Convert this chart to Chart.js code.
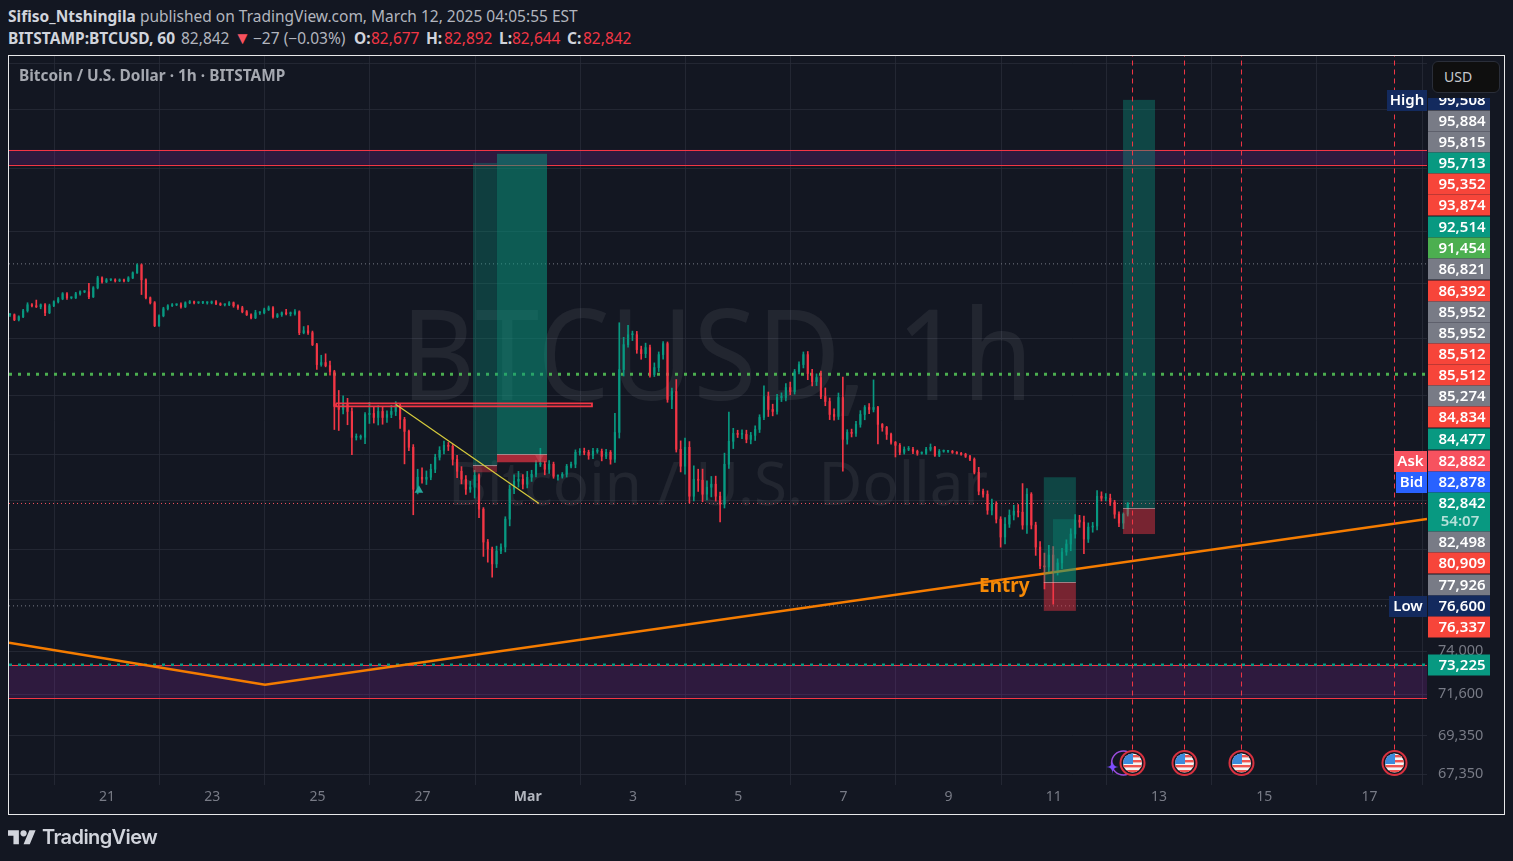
<!DOCTYPE html>
<html>
<head>
<meta charset="utf-8">
<title>BTCUSD 1h</title>
<script src="https://cdn.jsdelivr.net/npm/chart.js@4/dist/chart.umd.min.js"></script>
<style>
    html, body { margin: 0; padding: 0; width: 1513px; height: 861px; overflow: hidden; background: #131722; }
    body { font-family: "Noto Sans", sans-serif; position: relative; }
    canvas { position: absolute; left: 0; top: 0; }
    .line { position: absolute; left: 8px; font-size: 15.5px; line-height: 20px; color: #b2b5be; white-space: nowrap; }
    .line b { color: #d1d4dc; }
    .q { position: absolute; top: 28px; font-size: 15.5px; line-height: 20px; color: #b2b5be; white-space: nowrap; }
    .q.b { font-weight: 700; color: #d1d4dc; }
    .q.r { color: #f23645; }
    #frame { position: absolute; left: 8px; top: 55px; width: 1495px; height: 758px; border: 1px solid #e8e8ea; pointer-events: none; }
    #title { position: absolute; left: 19px; top: 66px; font-size: 15.4px; line-height: 20px; font-weight: 700; color: #a5a8b0; }
    #usd { position: absolute; left: 1432px; top: 61px; width: 68px; height: 32px; box-sizing: border-box; padding-left: 11px; line-height: 30px;
           background: #0f0f0f; border: 1px solid #2a2e39; border-radius: 6px; color: #c8cad0; font-size: 14px; }
    #brand { position: absolute; left: 42px; top: 823px; font: 600 20px/28px Inter, sans-serif; color: #d1d4dc; letter-spacing: -0.6px; }
    #logo { position: absolute; left: 8px; top: 827px; }
</style>
</head>
<body>

<div class="line" style="top:6px"><b>Sifiso_Ntshingila</b> published on TradingView.com, March 12, 2025 04:05:55 EST</div>
<span class="q b" style="left:8px">BITSTAMP:BTCUSD, 60</span>
<span class="q" style="left:181px">82,842</span>
<span class="q" style="left:234px;color:#f7525f;font-size:17px">&#9660;</span>
<span class="q" style="left:253px">&minus;27 (&minus;0.03%)</span>
<span class="q b" style="left:354px">O:</span><span class="q r" style="left:371px">82,677</span>
<span class="q b" style="left:426px">H:</span><span class="q r" style="left:444px">82,892</span>
<span class="q b" style="left:499px">L:</span><span class="q r" style="left:512px">82,644</span>
<span class="q b" style="left:567px">C:</span><span class="q r" style="left:583px">82,842</span>

<canvas id="chart" width="1513" height="861"></canvas>

<div id="frame"></div>
<div id="title">Bitcoin / U.S. Dollar &middot; 1h &middot; BITSTAMP</div>
<div id="usd">USD</div>
<svg id="logo" width="28" height="22" viewBox="0 0 36 28" fill="#d1d4dc"><path d="M14 22H7V11H0V4h14v18zM28 22h-8l7.5-18h8L28 22z"/><circle cx="20" cy="8" r="4"/></svg>
<div id="brand">TradingView</div>

<script>
/* ================= DATA ================= */

// 2 hour bars, day numbers count from Feb 1 (Mar 1 = 29)
const firstBarDay = 19.156;
const barHours = 2;

const closes = [
    95710,95345,95564,96002,96443,96370,96296,96443,95856,96370,
    96664,96885,97257,96960,96960,97257,97405,97405,97035,97700,
    98450,98150,98300,98300,98225,98300,98225,98450,98828,99432,
    98300,96960,96590,94912,95637,96149,96370,96443,96443,96296,
    96590,96664,96590,96590,96590,96590,96664,96517,96443,96443,
    96590,96370,96222,95929,95710,95491,95856,95856,96075,96222,
    95564,95710,95856,95783,95783,95929,94402,94548,94402,93545,
    92130,92270,92059,91638,89224,89020,89360,88884,87140,87140,
    87140,88680,88748,88479,88884,88479,88680,88884,89292,88344,
    87539,86479,83750,84520,84392,84520,85038,85821,86280,86611,
    86545,85690,84909,84392,83750,83880,84650,82481,80433,80004,
    79097,79882,80126,81855,83750,84264,84392,84072,84520,84714,
    85365,85365,85038,85365,84585,84585,84714,85235,85365,86148,
    86214,86148,85951,86214,86214,85886,86148,85690,87472,91776,
    93545,94258,94258,93188,92905,93333,91430,91918,92834,93616,
    89700,90250,86345,85235,86479,83302,84392,84328,83430,83880,
    84072,83302,82795,85365,86875,87406,87339,87339,87007,87273,
    87672,88479,89906,89020,88884,89837,89837,90525,90250,91638,
    92130,92834,91500,90941,91220,89906,89563,88680,88546,89837,
    87007,87472,87406,88008,88680,89156,89020,89156,88008,87807,
    87339,86809,86611,86148,86345,86345,86214,86082,86082,86345,
    86479,85951,86214,86214,86214,86148,86082,86016,85886,85690,
    84844,83622,83430,82418,82795,81855,80741,81546,82104,82355,
    82292,81484,83430,81484,80126,78977,78916,79638,78677,79157,
    79821,80310,80927,81793,81670,80616,81360,81422,83302,83176,
    83176,82924,82167,81608,82167,82842
];

// how far each bar's wick reaches past its body, in USD
const highWicks = [
    80,60,70,100,150,90,420,60,80,120,
    70,100,90,80,60,110,70,80,640,90,
    120,70,100,60,80,70,60,90,70,80,
    70,80,60,90,70,110,80,90,60,140,
    70,90,60,70,100,70,60,80,70,60,
    90,60,70,110,90,60,180,70,120,130,
    80,90,60,250,130,160,70,300,380,120,
    90,520,620,310,90,1100,600,420,240,230,
    160,120,760,480,390,330,240,420,260,90,
    140,90,180,520,610,410,330,200,240,280,
    190,120,260,300,240,380,330,90,100,160,
    120,300,200,150,260,420,510,300,380,260,
    240,1050,190,240,140,90,110,120,150,160,
    180,210,140,200,190,150,200,120,1280,3350,
    520,680,260,240,250,320,180,330,190,150,
    120,230,830,560,620,380,870,650,720,410,
    500,520,260,730,1960,340,210,300,280,200,
    240,180,740,310,360,220,320,270,380,150,
    200,190,220,290,260,460,590,240,380,310,
    1420,180,220,200,260,130,270,1900,80,60,
    70,90,60,120,160,190,130,80,100,140,
    220,60,120,90,70,60,50,60,70,60,
    90,320,130,220,330,160,150,400,330,380,
    420,1820,360,100,180,330,780,600,520,250,
    220,260,330,340,300,380,260,230,360,280,
    300,260,120,150,80,60
];

const lowWicks = [
    120,70,90,60,100,80,60,150,210,70,
    60,90,70,120,80,60,100,70,140,60,
    80,100,60,70,90,60,80,70,60,50,
    1100,80,90,70,60,80,90,60,70,100,
    60,70,90,60,70,100,80,70,60,90,
    70,110,120,80,60,90,70,130,80,60,
    100,70,120,90,160,110,140,80,130,70,
    350,120,90,260,1560,1420,300,900,1150,180,
    130,420,610,380,510,460,340,220,280,600,
    2150,220,1620,300,260,340,160,220,180,240,
    280,380,420,300,330,200,700,540,880,800,
    790,220,160,300,420,290,380,310,240,270,
    180,150,360,270,130,250,120,180,110,230,
    190,160,260,220,130,300,150,320,210,380,
    450,180,420,260,400,290,190,140,280,330,
    190,620,180,370,520,430,300,720,480,360,
    620,310,1120,240,270,480,210,290,230,300,
    340,210,160,480,300,190,280,240,230,180,
    170,240,430,310,280,150,290,350,260,210,
    2100,320,240,210,190,360,280,170,1300,260,
    340,120,770,160,120,90,150,130,60,80,
    110,70,90,60,80,70,50,60,80,90,
    110,230,180,260,300,240,620,430,210,300,
    300,260,520,240,510,170,1320,300,1980,250,
    350,200,410,260,330,900,210,320,240,180,
    170,210,260,220,350,120
];

// axes
const xTickDays = [21,23,25,27,29,31,33,35,37,39,41,43,45];
const xTickLabels = ["21","23","25","27","Mar","3","5","7","9","11","13","15","17"];
const yTickValues = [116000,112000,107000,102000,98000,94000,90000,86000,83000,80000,77000,74000,71600,69350,67350];
const yTickShown = [74000,71600,69350,67350];
const dayMin = 19.137, dayMax = 46.095;
const priceMin = 66790, priceMax = 116660;

// drawn lines
const trendDays = [19.137,24.004,46.095];
const trendPrices = [74463,72116,81867];
const fallDays = [26.494,29.213];
const fallPrices = [89360,82842];
const levelBoxDays = [25.354,30.22,30.22,25.354,25.354];
const levelBoxPrices = [89428,89428,89224,89224,89428];
const highPrice = 99508, lowPrice = 76600, lastPrice = 82842;
const alertPrice = 91454, supportPrice = 73225;
const eventDays = [40.4965,41.4851,42.568,45.4772];
const upMarkDays = [26.93], upMarkPrices = [83690];
const downMarkDays = [29.22], downMarkPrices = [85800];

// zones [top, bottom]
const zoneTops = [108580,73225];
const zoneBottoms = [107340,71394];

// long position tools
const posStart = [27.958,28.414,38.81,38.984,40.316];
const posEnd = [28.414,29.365,39.42,39.42,40.924];
const posTarget = [107500,108250,84520,81855,112810];
const posEntry = [85300,86016,78016,78016,82544];
const posStop = [84844,85495,76307,78016,80927];
const posGreen = [0.31,0.52,0.36,0.3,0.37];
const posRed = [0.4,0.67,0.45,0,0.45];

const entryDay = 37.578, entryPrice = 77760;

// price labels stacked on the right side
const pillTexts = ["95,884","95,815","95,713","95,352","93,874","92,514","91,454","86,821","86,392","85,952","85,952","85,512","85,512","85,274","84,834","84,477","82,882","82,878","82,842","82,498","80,909","77,926","76,600","76,337","73,225"];
const pillRows = [121,142,163,184,205,227,248,269,291,312,333,354,375,396,417,439,461,482,503,542,563,585,606,627,665];
const pillKinds = ["g","g","t","r","r","t","l","g","r","g","g","r","r","g","r","t","p","b","t","g","r","g","n","r","t"];
const pillColors = { g: "#787b86", t: "#089981", r: "#f7453a", l: "#4caf50", p: "#f7525f", b: "#2962ff", n: "#132a5e" };

const UP = "#089981", DOWN = "#f23645";

/* ================= BUILD SERIES ================= */

const barDays = closes.map((c, i) => firstBarDay + i * barHours / 24);
const opens = closes.map((c, i) => i === 0 ? c : closes[i - 1]);
const barColors = closes.map((c, i) => c >= opens[i] ? UP : DOWN);

const bodyData = closes.map((c, i) => ({ x: barDays[i], y: [Math.min(opens[i], c), Math.max(opens[i], c)] }));
const wickData = closes.map((c, i) => ({
    x: barDays[i],
    y: [Math.min(opens[i], c) - lowWicks[i], Math.max(opens[i], c) + highWicks[i]]
}));

function toPoints(days, prices) {
    return days.map((d, i) => ({ x: d, y: prices[i] }));
}

function lineSet(days, prices, color, width, dash, order) {
    return {
        type: "line",
        data: toPoints(days, prices),
        borderColor: color,
        borderWidth: width,
        borderDash: dash,
        pointRadius: 0,
        fill: false,
        tension: 0,
        order: order
    };
}

function levelSet(price, color, width, dash, order) {
    return lineSet([dayMin, dayMax], [price, price], color, width, dash, order);
}

function markSet(days, prices, color, rotation, order) {
    return {
        type: "line",
        data: toPoints(days, prices),
        showLine: false,
        pointStyle: "triangle",
        pointRadius: 5,
        pointRotation: rotation,
        pointBackgroundColor: color,
        pointBorderWidth: 0,
        order: order
    };
}

/* ================= PLUGINS ================= */

function drawWatermark(chart) {
    const ctx = chart.ctx;
    ctx.save();
    ctx.fillStyle = "rgba(255,255,255,0.065)";
    ctx.textAlign = "center";
    ctx.textBaseline = "middle";
    ctx.font = '60px "Noto Sans"';
    ctx.fillText("Bitcoin / U.S. Dollar", 718, 488);
    // the big symbol line is narrower than this font, squeeze it a bit
    ctx.translate(717, 364);
    ctx.scale(0.912, 1);
    ctx.font = '126px "Noto Sans"';
    ctx.fillText("BTCUSD, 1h", 0, 0);
    ctx.restore();
}

function drawZones(chart) {
    const ctx = chart.ctx, area = chart.chartArea, y = chart.scales.y;
    ctx.save();
    zoneTops.forEach((top, i) => {
        const y1 = y.getPixelForValue(top), y2 = y.getPixelForValue(zoneBottoms[i]);
        ctx.fillStyle = "rgba(156,39,176,0.2)";
        ctx.fillRect(area.left, y1, area.right - area.left, y2 - y1);
        ctx.fillStyle = "#f23645";
        ctx.fillRect(area.left, Math.round(y1), area.right - area.left, 1);
        ctx.fillRect(area.left, Math.round(y2), area.right - area.left, 1);
    });
    ctx.restore();
}

function drawPositions(chart) {
    const ctx = chart.ctx, x = chart.scales.x, y = chart.scales.y;
    ctx.save();
    posStart.forEach((start, i) => {
        const x1 = x.getPixelForValue(start), x2 = x.getPixelForValue(posEnd[i]);
        const yT = y.getPixelForValue(posTarget[i]);
        const yE = y.getPixelForValue(posEntry[i]);
        const yS = y.getPixelForValue(posStop[i]);
        ctx.fillStyle = "rgba(8,153,129," + posGreen[i] + ")";
        ctx.fillRect(x1, yT, x2 - x1, yE - yT);
        if (posRed[i] > 0) {
            ctx.fillStyle = "rgba(242,54,69," + posRed[i] + ")";
            ctx.fillRect(x1, yE, x2 - x1, yS - yE);
            ctx.fillStyle = "rgba(190,190,190,0.6)";
            ctx.fillRect(x1, Math.round(yE), x2 - x1, 1);
        }
    });
    ctx.restore();
}

function drawFlag(ctx, cx, cy) {
    ctx.save();
    ctx.beginPath();
    ctx.arc(cx, cy, 12, 0, Math.PI * 2);
    ctx.fillStyle = "#131722";
    ctx.fill();
    ctx.lineWidth = 2;
    ctx.strokeStyle = "#d8313f";
    ctx.stroke();
    ctx.beginPath();
    ctx.arc(cx, cy, 9.5, 0, Math.PI * 2);
    ctx.clip();
    ctx.fillStyle = "#f4f4f4";
    ctx.fillRect(cx - 10, cy - 10, 20, 20);
    ctx.fillStyle = "#ef5350";
    [-7, -2, 3, 8].forEach(dy => {
        ctx.fillRect(cx - 10, cy + dy - 1, 20, 2.4);
    });
    ctx.fillStyle = "#3d8bdc";
    ctx.fillRect(cx - 10, cy - 10, 10.5, 11);
    ctx.restore();
}

function drawEvents(chart) {
    const ctx = chart.ctx, x = chart.scales.x;
    ctx.save();
    // purple marker tucked behind the first flag
    const first = x.getPixelForValue(eventDays[0]);
    ctx.beginPath();
    ctx.arc(first - 9, 763, 12, 0, Math.PI * 2);
    ctx.strokeStyle = "#9c4ddc";
    ctx.lineWidth = 1.5;
    ctx.stroke();
    ctx.fillStyle = "#7c4dff";
    ctx.beginPath();
    const sx = first - 20, sy = 767;
    ctx.moveTo(sx, sy - 7);
    ctx.quadraticCurveTo(sx, sy, sx + 6, sy);
    ctx.quadraticCurveTo(sx, sy, sx, sy + 7);
    ctx.quadraticCurveTo(sx, sy, sx - 6, sy);
    ctx.quadraticCurveTo(sx, sy, sx, sy - 7);
    ctx.fill();
    ctx.restore();
    eventDays.forEach(d => drawFlag(ctx, x.getPixelForValue(d), 763));
}

function drawEntry(chart) {
    const ctx = chart.ctx;
    ctx.save();
    ctx.font = 'bold 19px "Noto Sans"';
    ctx.fillStyle = "#f58a07";
    ctx.textBaseline = "middle";
    ctx.fillText("Entry", chart.scales.x.getPixelForValue(entryDay), chart.scales.y.getPixelForValue(entryPrice));
    ctx.restore();
}

function pill(ctx, left, top, w, h, color, text, textX) {
    ctx.fillStyle = color;
    ctx.fillRect(left, top, w, h);
    if (text) {
        ctx.fillStyle = "#ffffff";
        ctx.fillText(text, textX || left + w / 2, top + h / 2 + 0.5);
    }
}

function drawPills(chart) {
    const ctx = chart.ctx;
    const textX = 1462;
    ctx.save();
    ctx.font = '600 15px "Noto Sans"';
    ctx.textAlign = "center";
    ctx.textBaseline = "middle";
    // the axis high label is cut off by its neighbours
    ctx.save();
    ctx.beginPath();
    ctx.rect(1428, 98, 62, 12);
    ctx.clip();
    pill(ctx, 1428, 90, 62, 21, pillColors.n, "99,508", textX);
    ctx.restore();
    pillTexts.forEach((text, i) => {
        const row = pillRows[i];
        const h = text === "82,842" ? 39 : 21;
        pill(ctx, 1428, row - 10.5, 62, h, pillColors[pillKinds[i]], text === "82,842" ? "" : text, textX);
    });
    ctx.fillStyle = "#ffffff";
    ctx.fillText("82,842", textX, 503.5);
    ctx.fillStyle = "rgba(255,255,255,0.7)";
    ctx.fillText("54:07", textX - 2, 521.5);
    // side tags
    pill(ctx, 1387, 90, 40, 21, pillColors.n, "High");
    pill(ctx, 1389, 596, 38, 21, pillColors.n, "Low");
    pill(ctx, 1394, 451, 33, 21, pillColors.p, "Ask");
    pill(ctx, 1396, 472, 31, 21, pillColors.b, "Bid");
    ctx.restore();
}

const overlayPlugin = {
    id: "overlay",
    beforeDatasetsDraw(chart) {
        drawWatermark(chart);
        drawZones(chart);
    },
    afterDatasetDraw(chart, args) {
        // position boxes sit over the bars and trend line, under the level lines
        if (args.meta.order === 30) {
            drawPositions(chart);
        }
    },
    afterDatasetsDraw(chart) {
        drawEntry(chart);
        drawEvents(chart);
    },
    afterDraw(chart) {
        drawPills(chart);
    }
};

/* ================= CHART ================= */

const datasets = [
    levelSet(highPrice, "#787b86", 1, [1, 3], 80),
    levelSet(lowPrice, "#787b86", 1, [1, 3], 81),
    levelSet(lastPrice, "#f7525f", 1, [1, 3], 82),
    levelSet(alertPrice, "#4caf50", 3, [3, 6], 83),
    levelSet(supportPrice, "#089981", 2.5, [3, 6], 84),
    { type: "bar", data: wickData, backgroundColor: barColors, barThickness: 1, minBarLength: 1, grouped: false, order: 60 },
    { type: "bar", data: bodyData, backgroundColor: barColors, barThickness: 1.5, minBarLength: 1, grouped: false, order: 50 },
    markSet(upMarkDays, upMarkPrices, "#26a69a", 0, 40),
    markSet(downMarkDays, downMarkPrices, "rgba(120,123,134,0.55)", 180, 40),
    lineSet(trendDays, trendPrices, "#f57c00", 2.5, [], 30),
    lineSet(levelBoxDays, levelBoxPrices, "#f23645", 1.8, [], 20),
    lineSet(fallDays, fallPrices, "#d6cb3c", 1.2, [], 10)
];

eventDays.forEach(d => {
    datasets.push(lineSet([d, d], [priceMin + 900, priceMax], "#f23645", 1, [5, 4], 5));
});

new Chart(document.getElementById("chart"), {
    type: "bar",
    data: { datasets: datasets },
    options: {
        responsive: false,
        animation: false,
        events: [],
        layout: { padding: { left: 9, top: 56, right: 9, bottom: 47 } },
        plugins: { legend: { display: false }, tooltip: { enabled: false } },
        scales: {
            x: {
                type: "linear",
                offset: false,
                min: dayMin,
                max: dayMax,
                afterBuildTicks(scale) {
                    scale.ticks = xTickDays.map(d => ({ value: d }));
                },
                afterFit(scale) {
                    scale.height = 29;
                },
                grid: { color: "rgba(42,46,57,0.75)", drawTicks: false },
                border: { display: false },
                ticks: {
                    autoSkip: false,
                    maxRotation: 0,
                    padding: 4,
                    color: ctx => xTickLabels[ctx.index] === "Mar" ? "#b2b5be" : "#787b86",
                    font: ctx => ({ family: "Noto Sans", size: 14, weight: xTickLabels[ctx.index] === "Mar" ? "bold" : "normal" }),
                    callback: (value, i) => xTickLabels[i]
                }
            },
            y: {
                type: "logarithmic",
                position: "right",
                min: priceMin,
                max: priceMax,
                afterBuildTicks(scale) {
                    scale.ticks = yTickValues.map(v => ({ value: v }));
                },
                afterFit(scale) {
                    scale.width = 77;
                },
                grid: { color: "rgba(42,46,57,0.75)", drawTicks: false },
                border: { display: false },
                ticks: {
                    autoSkip: false,
                    padding: 11,
                    color: "#787b86",
                    font: { family: "Noto Sans", size: 14.5 },
                    callback: value => yTickShown.includes(value) ? value.toLocaleString("en-US") : ""
                }
            }
        }
    },
    plugins: [overlayPlugin]
});
</script>
</body>
</html>
